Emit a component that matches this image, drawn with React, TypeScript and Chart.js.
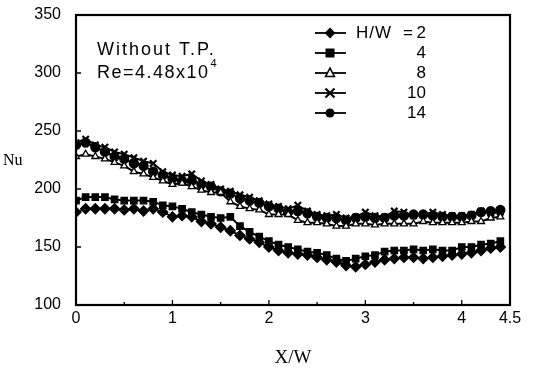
import React, { useEffect, useRef } from "react";
import { Chart, registerables } from "chart.js";

Chart.register(...registerables);

const xValues = [
  0, 0.1, 0.2, 0.3, 0.4, 0.5, 0.6, 0.7, 0.8, 0.9,
  1.0, 1.1, 1.2, 1.3, 1.4, 1.5, 1.6, 1.7, 1.8, 1.9,
  2.0, 2.1, 2.2, 2.3, 2.4, 2.5, 2.6, 2.7, 2.8, 2.9,
  3.0, 3.1, 3.2, 3.3, 3.4, 3.5, 3.6, 3.7, 3.8, 3.9,
  4.0, 4.1, 4.2, 4.3, 4.4,
];

const hw2 = [
  180, 183, 183, 183, 183, 182, 183, 181, 183, 180,
  176, 177, 176, 172, 170, 167, 164, 160, 157, 154,
  150, 147, 145, 144, 143, 141, 139, 137, 134, 133,
  135, 137, 139, 140, 141, 141, 140, 141, 142, 143,
  144, 145, 147, 149, 150,
];
const hw4 = [
  190, 193, 193, 193, 191, 190, 190, 190, 189, 186,
  185, 183, 180, 178, 176, 175, 176, 168, 163, 159,
  155, 152, 150, 148, 146, 145, 143, 140, 138, 140,
  142, 143, 146, 147, 147, 148, 147, 148, 147, 147,
  150, 150, 152, 153, 155,
];
const hw8 = [
  228, 230, 228, 226, 223, 220, 215, 213, 210, 207,
  204, 205, 202, 199, 197, 197, 189, 185, 183, 182,
  178, 178, 178, 173, 171, 171, 170, 168, 168, 170,
  170, 169, 170, 170, 170, 170, 172, 171, 171, 171,
  171, 172, 172, 175, 176,
];
const hw10 = [
  240, 243, 238, 236, 232, 230, 227, 224, 222, 215,
  212, 211, 213, 207, 204, 200, 198, 195, 193, 190,
  187, 185, 183, 186, 181, 178, 177, 178, 175, 176,
  180, 177, 176, 181, 180, 177, 178, 180, 178, 177,
  177, 178, 181, 179, 180,
];
const hw14 = [
  238, 240, 236, 232, 228, 226, 222, 220, 215, 212,
  209, 207, 207, 204, 202, 198, 196, 192, 190, 188,
  185, 183, 180, 181, 179, 176, 175, 175, 173, 175,
  176, 175, 175, 177, 177, 178, 178, 177, 176, 176,
  176, 177, 180, 181, 182,
];

const xTicks = [0, 1, 2, 3, 4, 4.5];
const xMinorTicks = [0.5, 1.5, 2.5, 3.5];
const yTicks = [150, 200, 250, 300];

const legendLabels = ["2", "4", "8", "10", "14"];
const seriesNames = ["H/W = 2", "H/W = 4", "H/W = 8", "H/W = 10", "H/W = 14"];
const seriesValues = [hw2, hw4, hw8, hw10, hw14];
const pointStyles = ["rectRot", "rect", "triangle", "crossRot", "circle"];

const SANS = "'Liberation Sans', Arial, sans-serif";
const SERIF = "'Liberation Serif', 'Times New Roman', serif";

function drawMarker(ctx: CanvasRenderingContext2D, style: string, x: number, y: number, r: number) {
  ctx.save();
  ctx.fillStyle = "#000";
  ctx.strokeStyle = "#000";
  ctx.lineWidth = 1.5;
  ctx.beginPath();
  if (style === "rectRot") {
    ctx.moveTo(x, y - r * 1.2);
    ctx.lineTo(x + r * 1.2, y);
    ctx.lineTo(x, y + r * 1.2);
    ctx.lineTo(x - r * 1.2, y);
    ctx.closePath();
    ctx.fill();
  } else if (style === "rect") {
    ctx.rect(x - r, y - r, 2 * r, 2 * r);
    ctx.fill();
  } else if (style === "triangle") {
    ctx.moveTo(x, y - r * 1.1);
    ctx.lineTo(x + r, y + r * 0.8);
    ctx.lineTo(x - r, y + r * 0.8);
    ctx.closePath();
    ctx.fillStyle = "#fff";
    ctx.fill();
    ctx.stroke();
  } else if (style === "crossRot") {
    ctx.moveTo(x - r, y - r);
    ctx.lineTo(x + r, y + r);
    ctx.moveTo(x + r, y - r);
    ctx.lineTo(x - r, y + r);
    ctx.lineWidth = 2.2;
    ctx.stroke();
  } else {
    ctx.arc(x, y, r, 0, Math.PI * 2);
    ctx.fill();
  }
  ctx.restore();
}

const decorPlugin = {
  id: "decor",
  afterDraw(chart: any) {
    const ctx: any = chart.ctx;
    const a = chart.chartArea;
    const xs = chart.scales.x;
    const ys = chart.scales.y;
    ctx.save();
    // frame
    ctx.strokeStyle = "#000";
    ctx.lineWidth = 2.2;
    ctx.strokeRect(a.left, a.top, a.right - a.left, a.bottom - a.top);
    // inward ticks
    ctx.lineWidth = 1.3;
    ctx.beginPath();
    xTicks.slice(1, 5).forEach((v) => {
      const px = xs.getPixelForValue(v);
      ctx.moveTo(px, a.bottom);
      ctx.lineTo(px, a.bottom - 5);
    });
    xMinorTicks.forEach((v) => {
      const px = xs.getPixelForValue(v);
      ctx.moveTo(px, a.bottom);
      ctx.lineTo(px, a.bottom - 3);
    });
    yTicks.forEach((v) => {
      const py = ys.getPixelForValue(v);
      ctx.moveTo(a.left, py);
      ctx.lineTo(a.left + 5, py);
    });
    ctx.stroke();

    // axis titles
    ctx.fillStyle = "#000";
    ctx.font = "16px " + SERIF;
    ctx.textAlign = "left";
    ctx.textBaseline = "middle";
    ctx.fillText("Nu", 3, 161);
    ctx.font = "19px " + SERIF;
    ctx.textAlign = "center";
    ctx.fillText("X/W", 293, 358);

    // annotation
    ctx.font = "18px " + SANS;
    ctx.textAlign = "left";
    ctx.letterSpacing = "2px";
    ctx.fillText("Without T.P.", 97, 50);
    ctx.letterSpacing = "1.5px";
    ctx.fillText("Re=4.48x10", 97, 73);
    const w = ctx.measureText("Re=4.48x10").width;
    ctx.letterSpacing = "0px";
    ctx.font = "11px " + SANS;
    ctx.fillText("4", 97 + w + 1, 64);

    // legend
    const rowY = [33, 53, 73, 93, 113];
    ctx.font = "17px " + SANS;
    rowY.forEach((y, i) => {
      ctx.strokeStyle = "#000";
      ctx.lineWidth = 1.8;
      ctx.beginPath();
      ctx.moveTo(315, y);
      ctx.lineTo(346, y);
      ctx.stroke();
      drawMarker(ctx, pointStyles[i], 330, y, 4.5);
      ctx.fillStyle = "#000";
      ctx.textAlign = "right";
      ctx.fillText(legendLabels[i], 426, y);
    });
    ctx.textAlign = "left";
    ctx.letterSpacing = "1px";
    ctx.fillText("H/W", 356, rowY[0]);
    ctx.letterSpacing = "0px";
    ctx.fillText("=", 403, rowY[0]);
    ctx.restore();
  },
};

export default function App() {
  const ref = useRef<HTMLCanvasElement | null>(null);
  useEffect(() => {
    if (!ref.current) return;
    const datasets = seriesValues.map((vals, i) => ({
      label: seriesNames[i],
      data: vals.map((v, j) => ({ x: xValues[j], y: v })),
      borderColor: "#000",
      borderWidth: 2,
      backgroundColor: pointStyles[i] === "triangle" ? "#fff" : "#000",
      pointBackgroundColor: pointStyles[i] === "triangle" ? "#fff" : "#000",
      pointBorderColor: "#000",
      pointBorderWidth: pointStyles[i] === "crossRot" ? 2.2 : 1.3,
      pointStyle: pointStyles[i],
      pointRadius: pointStyles[i] === "rectRot" ? 5 : pointStyles[i] === "triangle" ? 4 : 4.5,
      tension: 0,
      fill: false,
    }));
    const chart = new Chart(ref.current, {
      type: "line",
      data: { datasets },
      options: {
        animation: false,
        responsive: false,
        layout: { padding: { left: 0, right: 26, top: 15, bottom: 0 } },
        plugins: { legend: { display: false }, tooltip: { enabled: false } },
        scales: {
          x: {
            type: "linear",
            min: 0,
            max: 4.5,
            afterBuildTicks: (scale: any) => {
              scale.ticks = xTicks.map((v) => ({ value: v }));
            },
            afterFit: (scale: any) => {
              scale.height = 67;
              scale.paddingLeft = 0;
              scale.paddingRight = 0;
              scale.paddingTop = 0;
              scale.paddingBottom = 0;
            },
            ticks: {
              autoSkip: false,
              maxRotation: 0,
              padding: 4,
              color: "#000",
              font: { family: SANS, size: 16 },
              callback: (v: any) => String(v),
            },
            grid: { display: false, drawTicks: false },
            border: { display: false },
          },
          y: {
            min: 100,
            max: 350,
            afterFit: (scale: any) => {
              scale.width = 76;
              scale.paddingLeft = 0;
              scale.paddingRight = 0;
              scale.paddingTop = 0;
              scale.paddingBottom = 0;
            },
            ticks: {
              stepSize: 50,
              padding: 15,
              color: "#000",
              font: { family: SANS, size: 16 },
            },
            grid: { display: false, drawTicks: false },
            border: { display: false },
          },
        },
      },
      plugins: [decorPlugin],
    } as any);
    return () => chart.destroy();
  }, []);
  return (
    <div style={{ position: "absolute", left: 0, top: 0, width: 536, height: 372, background: "#fff" }}>
      <canvas ref={ref} width={536} height={372} />
    </div>
  );
}
